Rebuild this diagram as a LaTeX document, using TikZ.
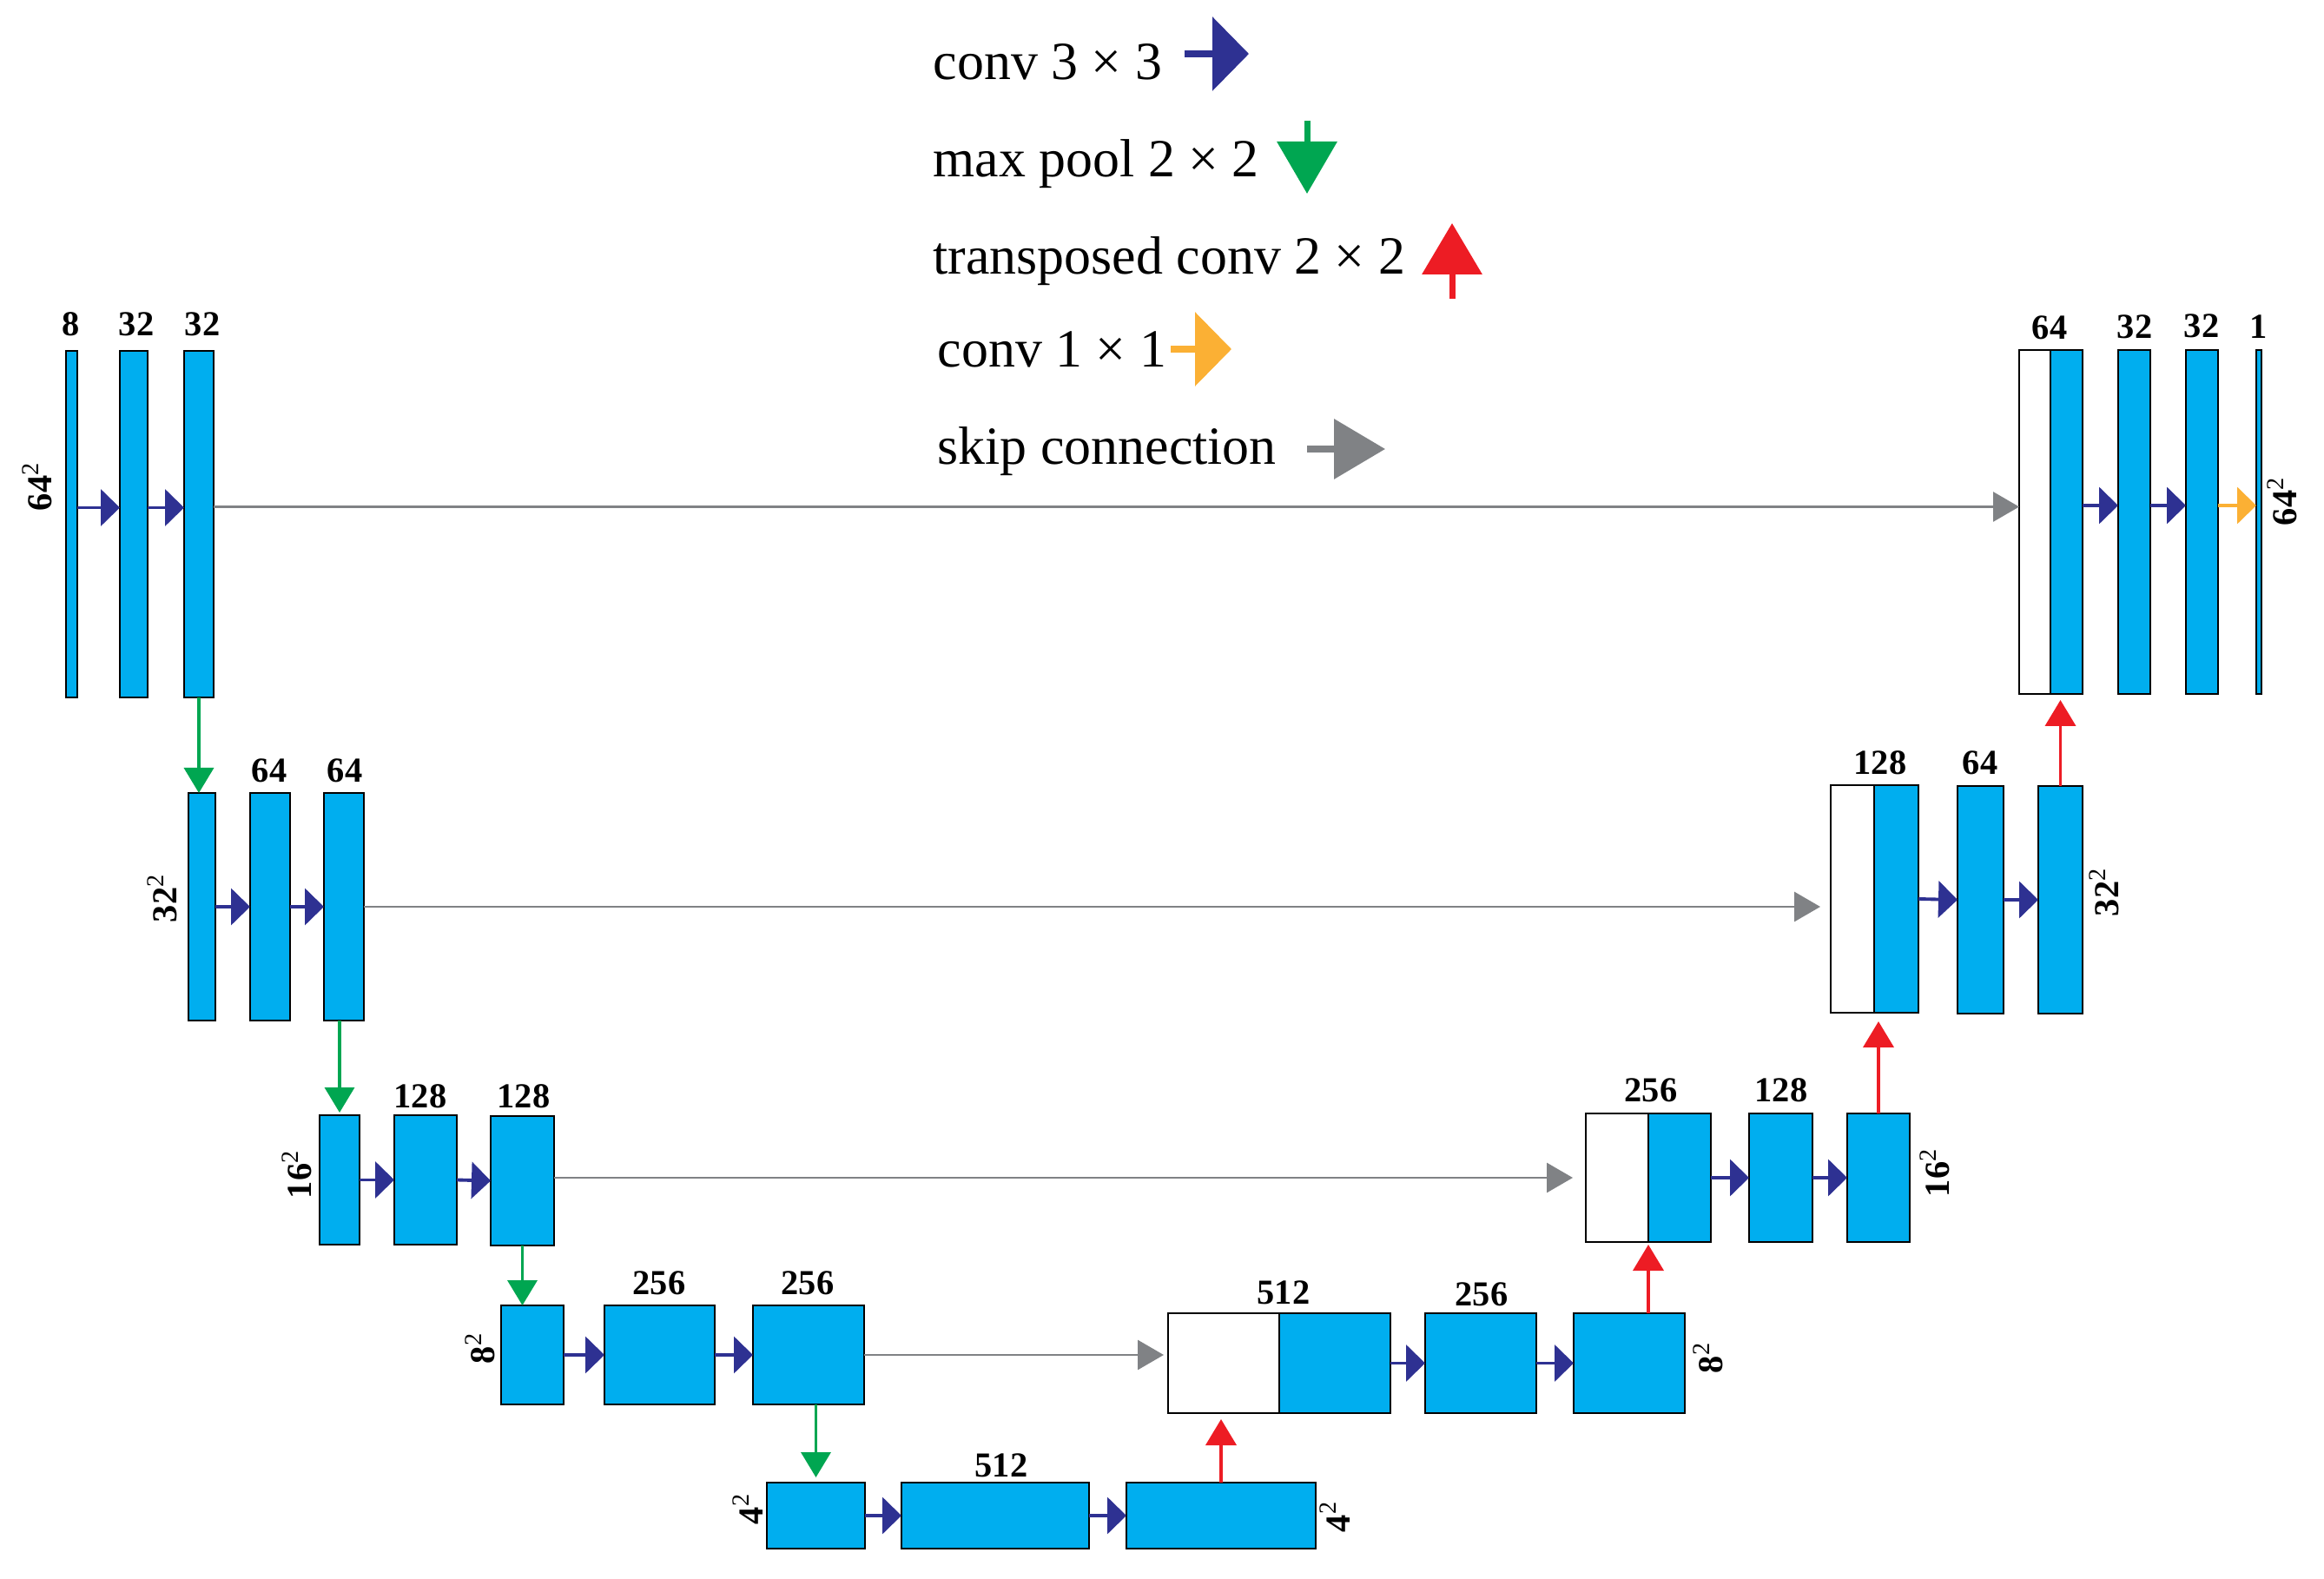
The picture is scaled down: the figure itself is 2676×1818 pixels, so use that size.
\documentclass[tikz,border=0pt]{standalone}
\usepackage{fontspec}
\setmainfont{Liberation Serif}
\usetikzlibrary{arrows.meta}
\usetikzlibrary{calc}

\definecolor{fmblue}{HTML}{00AEEF}
\definecolor{cvblue}{HTML}{2E3192}
\definecolor{pgreen}{HTML}{00A651}
\definecolor{ured}{HTML}{ED1C24}
\definecolor{oyellow}{HTML}{FBB034}
\definecolor{sgray}{HTML}{808285}

\tikzset{
 fmap/.style 2 args={draw, line width=.75pt, fill=fmblue, inner sep=0pt, outer sep=0pt, minimum width=#1mm, minimum height=#2mm},
 cat/.style 2 args={fmap={#1}{#2}, fill=white},
 num/.style={font=\fontsize{11.5}{12}\selectfont\bfseries, inner sep=0pt},
 res/.style={num, rotate=90},
 keytext/.style={font=\fontsize{17.6}{20}\selectfont, inner sep=0pt, anchor=base west},
 conv/.style={cvblue, line width=1.1pt, -{Triangle[length=2.2mm,width=4.2mm]}},
 onebyone/.style={oyellow, line width=1.1pt, -{Triangle[length=2.2mm,width=4.2mm]}},
 pool/.style={pgreen, line width=1.05pt, -{Triangle[length=2.9mm,width=3.4mm]}},
 upconv/.style={ured, line width=1.1pt, -{Triangle[length=3mm,width=3.5mm]}},
 skipcon/.style={sgray, line width=.85pt, -{Triangle[length=3mm,width=3.4mm]}},
}

\begin{document}
\begin{tikzpicture}[x=0.1mm, y=-0.1mm]
\useasboundingbox (0,0) rectangle (2676,1818);

% legend
\node[keytext] (k1) at (1074,92) {conv 3 × 3};
\node[keytext] (k2) at (1074,204) {max pool 2 × 2};
\node[keytext] (k3) at (1074,316) {transposed conv 2 × 2};
\node[keytext] (k4) at (1079,423) {conv 1 × 1};
\node[keytext] (k5) at (1079,535) {skip connection};
\coordinate (k1s) at (1364,62);  \coordinate (k1e) at (1438,62);
\coordinate (k2s) at (1505,139); \coordinate (k2e) at (1505,223);
\coordinate (k3s) at (1672,344); \coordinate (k3e) at (1672,257);
\coordinate (k4s) at (1348,402); \coordinate (k4e) at (1418,402);
\coordinate (k5s) at (1505,517); \coordinate (k5e) at (1595,517);
\draw[conv, line width=2pt, -{Triangle[length=4.2mm,width=8.4mm]}] (k1s) -- (k1e);
\draw[pool, line width=2pt, -{Triangle[length=6mm,width=6.8mm]}] (k2s) -- (k2e);
\draw[upconv, line width=2pt, -{Triangle[length=5.9mm,width=6.8mm]}] (k3s) -- (k3e);
\draw[onebyone, line width=2pt, -{Triangle[length=4.2mm,width=8.4mm]}] (k4s) -- (k4e);
\draw[skipcon, line width=2pt, -{Triangle[length=5.9mm,width=6.8mm]}] (k5s) -- (k5e);

% encoder
\node[fmap={1.3}{39.9}] (a1) at (82.5,603.5) {};
\node[fmap={3.2}{39.9}] (a2) at (154,603.5) {};
\node[fmap={3.4}{39.9}] (a3) at (229,603.5) {};
\node[fmap={3.1}{26.2}] (b1) at (232.5,1044) {};
\node[fmap={4.6}{26.2}] (b2) at (311,1044) {};
\node[fmap={4.6}{26.2}] (b3) at (396,1044) {};
\node[fmap={4.6}{14.9}] (c1) at (391,1358.5) {};
\node[fmap={7.2}{14.9}] (c2) at (490,1358.5) {};
\node[fmap={7.3}{14.9}] (c3) at (601.5,1359.5) {};
\node[fmap={7.2}{11.4}] (d1) at (613,1560) {};
\node[fmap={12.7}{11.4}] (d2) at (759.5,1560) {};
\node[fmap={12.8}{11.4}] (d3) at (931,1560) {};
\node[fmap={11.3}{7.6}] (e1) at (939.5,1745) {};
\node[fmap={21.6}{7.6}] (e2) at (1146,1745) {};
\node[fmap={21.8}{7.6}] (e3) at (1406,1745) {};

% decoder
\node[cat={12.8}{11.5}] (x1) at (1409,1569.5) {};
\node[fmap={12.8}{11.5}] (x2) at (1537,1569.5) {};
\node[fmap={12.8}{11.5}] (x3) at (1705,1569.5) {};
\node[fmap={12.8}{11.5}] (x4) at (1876,1569.5) {};
\node[cat={7.2}{14.8}] (w1) at (1862,1356) {};
\node[fmap={7.2}{14.8}] (w2) at (1934,1356) {};
\node[fmap={7.3}{14.8}] (w3) at (2050.5,1356) {};
\node[fmap={7.2}{14.8}] (w4) at (2163,1356) {};
\node[cat={5.0}{26.2}] (v1) at (2133,1035) {};
\node[fmap={5.1}{26.2}] (v2) at (2183.5,1035) {};
\node[fmap={5.3}{26.2}] (v3) at (2280.5,1036) {};
\node[fmap={5.1}{26.2}] (v4) at (2372.5,1036) {};
\node[cat={3.6}{39.6}] (u1) at (2343,601) {};
\node[fmap={3.7}{39.6}] (u2) at (2379.5,601) {};
\node[fmap={3.7}{39.6}] (u3) at (2457.5,601) {};
\node[fmap={3.7}{39.6}] (u4) at (2535.5,601) {};
\node[fmap={0.6}{39.6}] (u5) at (2601,601) {};

% channel numbers
\foreach \n/\x/\y/\t in {n11/82/373/8, n12/157/373/32, n13/233/373/32, n14/2360/377/64,
  n15/2458/376/32, n16/2535/375/32, n17/2601/376/1, n21/310/887/64, n22/397/887/64,
  n23/2165/878/128, n24/2280/878/64, n31/484/1262/128, n32/603/1262/128,
  n33/1901/1255/256, n34/2051/1255/128, n41/759/1477/256, n42/930/1477/256,
  n43/1478/1488/512, n44/1706/1490/256, n51/1153/1687/512}
 \node[num] (\n) at (\x,\y) {\t};

% resolutions
\foreach \n/\x/\y/\t in {r1l/43/560/64, r1r/2628/577/64, r2l/187/1034/32, r2r/2423/1027/32,
  r3l/342/1352/16, r3r/2228/1350/16, r4l/553/1552/8, r4r/1967/1563/8,
  r5l/861/1737/4, r5r/1537/1746/4}
 \node[res] (\n) at (\x,\y) {\t\textsuperscript{\mdseries 2}};

% conv 3x3
\foreach \p/\q in {a1/a2,a2/a3,u2/u3,u3/u4}
 \draw[conv] ([yshift=1.9mm]\p.east) -- ([yshift=1.9mm]\q.west);
\foreach \p/\q in {b1/b2,b2/b3,c1/c2,c2/c3,d1/d2,d2/d3,e1/e2,e2/e3,x2/x3,x3/x4,w2/w3,w3/w4,v2/v3,v3/v4}
 \draw[conv] (\p.east) -- (\q.west);
\draw[onebyone] ([yshift=1.9mm]u4.east) -- ([yshift=1.9mm]u5.west);

% max pool
\draw[pool] (a3.south) -- (a3.south |- b1.north);
\draw[pool, shorten >=.3mm] (b3.south -| c1.north) -- (c1.north);
\draw[pool] (c3.south) -- (c3.south |- d1.north);
\draw[pool, shorten >=.6mm] (e1.north |- d3.south) -- (e1.north);

% transposed conv
\draw[upconv, shorten >=.7mm] (e3.north) -- (e3.north |- x1.south);
\draw[upconv, shorten >=.3mm] (w2.south west |- x4.north) -- (w2.south west);
\draw[upconv, shorten >=1mm] (w4.north) -- (w4.north |- v2.south);
\draw[upconv, shorten >=.7mm] (v4.north) -- (v4.north |- u2.south);

% skip connections
\draw[skipcon] ([yshift=2mm]a3.east) -- ([yshift=2mm]a3.east -| u1.west);
\draw[skipcon, shorten >=1.2mm] (b3.east) -- (b3.east -| v1.west);
\draw[skipcon, shorten >=1.5mm] (w1.west -| c3.east) -- (w1.west);
\draw[skipcon, shorten >=.5mm] (d3.east) -- (d3.east -| x1.west);
\end{tikzpicture}
\end{document}
